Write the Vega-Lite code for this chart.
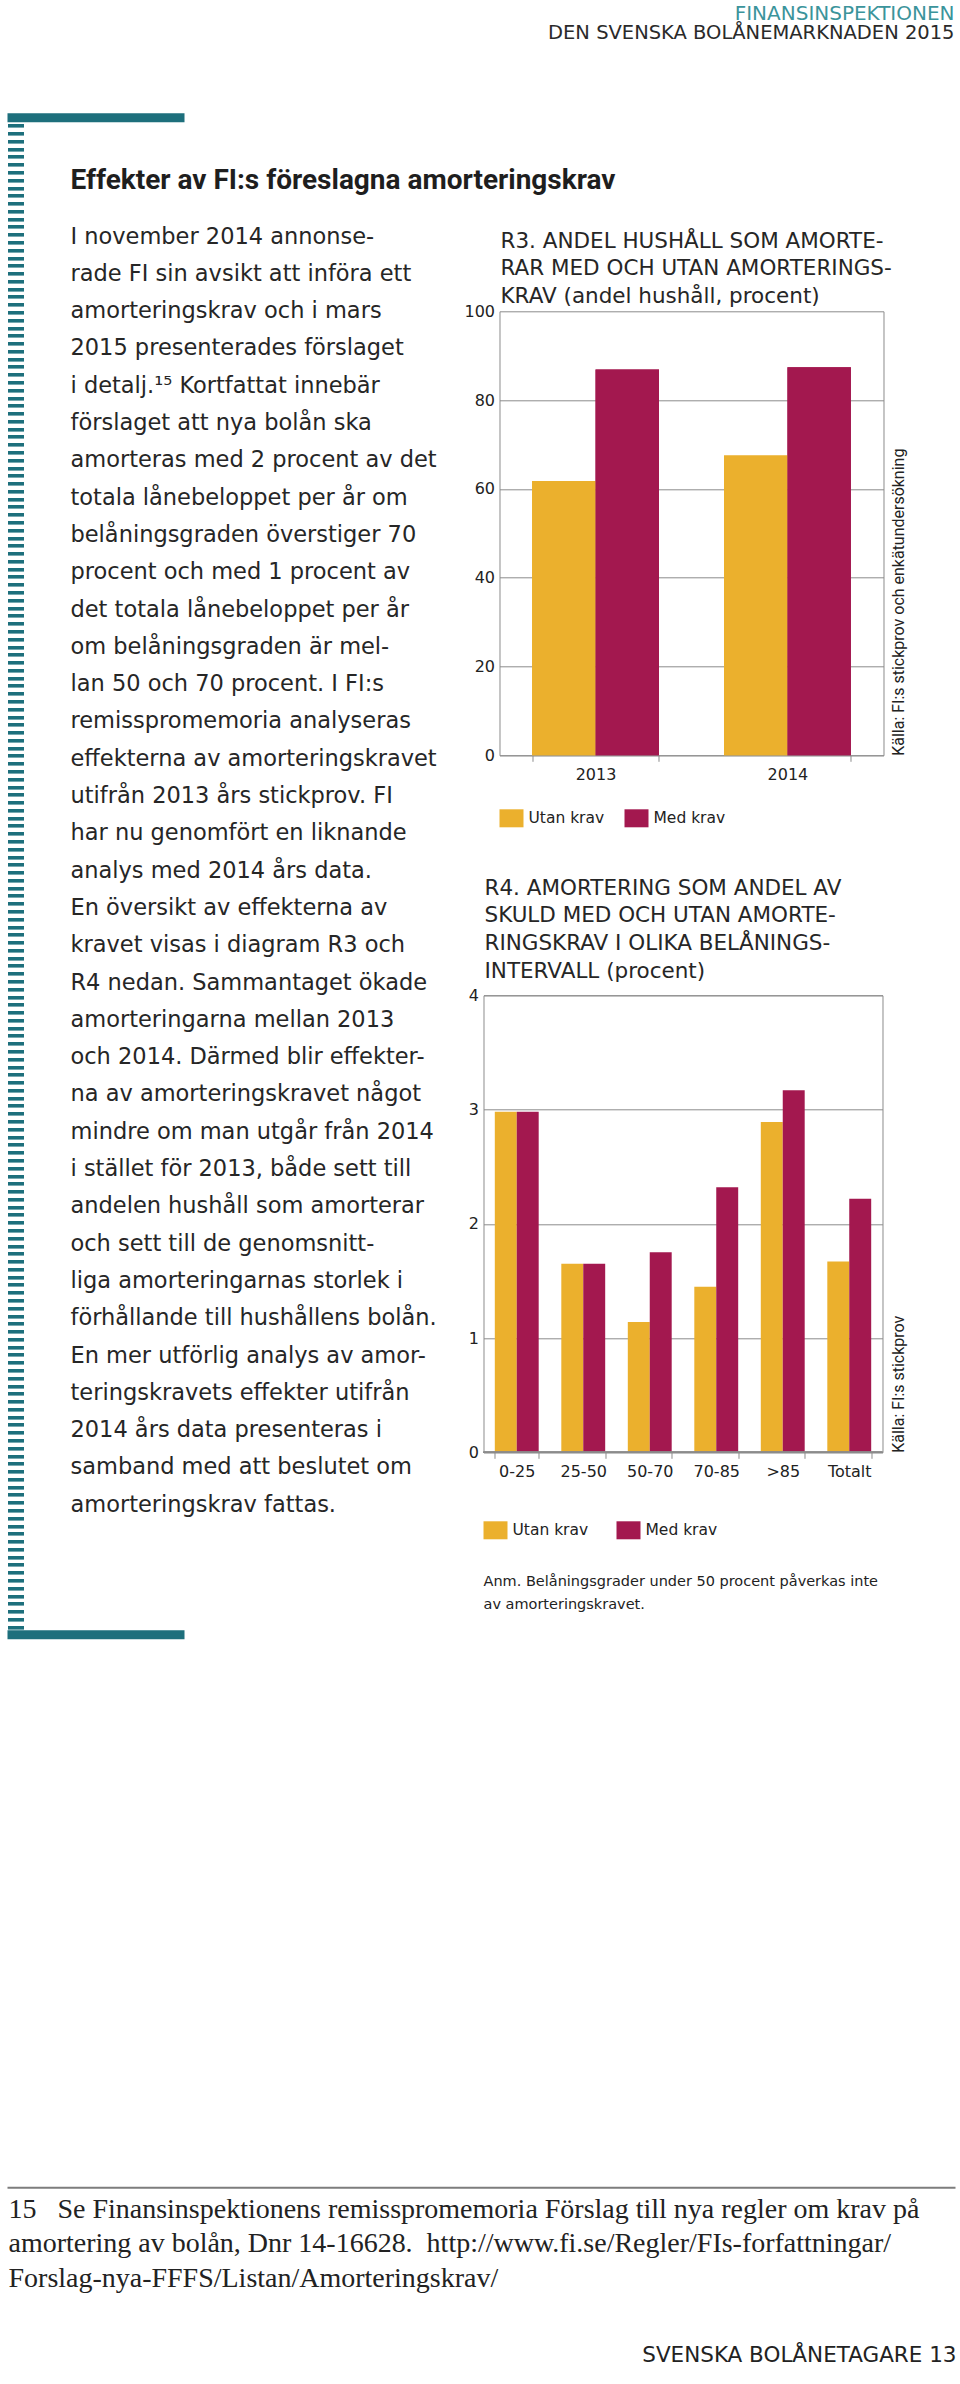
{
  "$schema": "https://vega.github.io/schema/vega-lite/v6.json",
  "background": "white",
  "padding": {"left": 2.5, "top": 3.3, "right": 0, "bottom": 0},
  "autosize": {"type": "pad"},
  "columns": 2,
  "bounds": "flush",
  "align": "each",
  "spacing": {"row": 240, "column": 299},
  "resolve": {"scale": {"color": "independent", "xOffset": "independent"}},
  "title": {
    "text": "SVENSKA BOLÅNETAGARE 13",
    "orient": "bottom", "anchor": "end", "frame": "bounds", "offset": 52,
    "font": "DejaVu Sans", "fontSize": 21.5, "fontWeight": "normal", "color": "#222222"
  },
  "config": {
    "font": "DejaVu Sans",
    "view": {"stroke": null},
    "axis": {"labelFont": "DejaVu Sans", "titleFont": "DejaVu Sans"},
    "legend": {"labelFont": "DejaVu Sans", "titleFont": "DejaVu Sans"}
  },
  "concat": [
    {
      "width": 177, "height": 444,
      "view": {"stroke": null},
      "title": {
        "text": "FINANSINSPEKTIONEN",
        "subtitle": "DEN SVENSKA BOLÅNEMARKNADEN 2015",
        "orient": "top", "anchor": "end", "frame": "group", "dx": 770, "offset": 70.9,
        "font": "DejaVu Sans", "fontSize": 20, "fontWeight": "normal", "color": "#3b949b",
        "subtitleFont": "DejaVu Sans", "subtitleFontSize": 19.5, "subtitleColor": "#2a2a2a", "subtitlePadding": 0
      },
      "data": {"values": [{"bar": 0}, {"bar": 195}]},
      "mark": {"type": "rule", "color": "#1d6f7c", "strokeWidth": 9},
      "encoding": {
        "y": {
          "field": "bar", "type": "quantitative",
          "scale": {"domain": [0, 195], "range": [1323.5, -193.5], "nice": false, "zero": false},
          "axis": {
            "orient": "left", "offset": -16, "domain": false, "labels": false, "grid": false,
            "ticks": true, "tickSize": 16, "tickWidth": 3.6, "tickColor": "#1d6f7c",
            "tickCount": 195, "title": null
          }
        }
      }
    },
    {
      "width": 400, "height": 444,
      "view": {"stroke": null},
      "title": {
        "text": ["R3. ANDEL HUSHÅLL SOM AMORTE-", "RAR MED OCH UTAN AMORTERINGS-", "KRAV (andel hushåll, procent)"],
        "anchor": "start", "frame": "group", "offset": -4, "dx": 17,
        "font": "DejaVu Sans", "fontSize": 21.5, "fontWeight": "normal", "lineHeight": 27.5, "color": "#262626"
      },
      "data": {"values": [
        {"year": "2013", "group": "Utan krav", "value": 61.8},
        {"year": "2013", "group": "Med krav", "value": 86.9},
        {"year": "2014", "group": "Utan krav", "value": 67.5},
        {"year": "2014", "group": "Med krav", "value": 87.4}
      ]},
      "layer": [
        {
          "mark": {"type": "bar"},
          "encoding": {
            "x": {
              "field": "year", "type": "nominal",
              "scale": {"paddingInner": 0.339, "paddingOuter": 0.17, "range": [16, 400]},
              "axis": {
                "title": null, "domain": true, "domainColor": "#8c8c8c", "tickBand": "extent", "ticks": true, "tickSize": 6,
                "tickColor": "#8c8c8c", "labelAngle": 0, "labelPadding": 5, "labelFontSize": 16, "labelColor": "#222222"
              }
            },
            "xOffset": {"field": "group", "type": "nominal", "sort": ["Utan krav", "Med krav"]},
            "y": {
              "field": "value", "type": "quantitative",
              "scale": {"domain": [0, 100], "nice": false},
              "axis": {
                "orient": "left", "offset": -16, "values": [0, 20, 40, 60, 80, 100], "grid": true, "gridColor": "#8c8c8c",
                "gridWidth": 1, "domain": true, "domainColor": "#8c8c8c", "ticks": false, "labelPadding": 5, "labelFontSize": 16,
                "labelColor": "#222222", "title": null
              }
            },
            "color": {
              "field": "group", "type": "nominal", "sort": ["Utan krav", "Med krav"],
              "scale": {"domain": ["Utan krav", "Med krav"], "range": ["#EBB02D", "#A3184F"]},
              "legend": {
                "orient": "bottom", "direction": "horizontal", "title": null, "offset": 8, "padding": 16,
                "symbolType": "M-1,-0.75L1,-0.75L1,0.75L-1,0.75Z", "symbolSize": 576, "symbolStrokeWidth": 0,
                "labelFontSize": 15.5, "labelColor": "#222222", "labelOffset": 5, "columnPadding": 20
              }
            }
          }
        },
        {
          "mark": {"type": "bar"},
          "encoding": {
            "x": {"field": "year", "type": "nominal"},
            "xOffset": {"field": "group", "type": "nominal", "sort": ["Utan krav", "Med krav"]},
            "color": {"field": "group", "type": "nominal", "sort": ["Utan krav", "Med krav"]},
            "y": {
              "field": "value", "type": "quantitative",
              "axis": {
                "orient": "right", "domain": true, "domainColor": "#8c8c8c", "ticks": false, "labels": false, "grid": false,
                "title": "Källa: FI:s stickprov och enkätundersökning",
                "titleAngle": 270, "titleAnchor": "start", "titleAlign": "left", "titleBaseline": "top",
                "titlePadding": 7, "titleFont": "Roboto", "titleFontSize": 16, "titleFontWeight": "normal",
                "titleColor": "#222222", "titleLimit": 600
              }
            }
          }
        }
      ],
      "resolve": {"axis": {"y": "independent"}}
    },
    {
      "width": 161, "height": 952,
      "view": {"stroke": null},
      "data": {"values": []},
      "mark": "text",
      "title": {
        "text": "Effekter av FI:s föreslagna amorteringskrav",
        "subtitle": [
          "I november 2014 annonse-",
          "rade FI sin avsikt att införa ett",
          "amorteringskrav och i mars",
          "2015 presenterades förslaget",
          "i detalj.¹⁵ Kortfattat innebär",
          "förslaget att nya bolån ska",
          "amorteras med 2 procent av det",
          "totala lånebeloppet per år om",
          "belåningsgraden överstiger 70",
          "procent och med 1 procent av",
          "det totala lånebeloppet per år",
          "om belåningsgraden är mel-",
          "lan 50 och 70 procent. I FI:s",
          "remisspromemoria analyseras",
          "effekterna av amorteringskravet",
          "utifrån 2013 års stickprov. FI",
          "har nu genomfört en liknande",
          "analys med 2014 års data.",
          "En översikt av effekterna av",
          "kravet visas i diagram R3 och",
          "R4 nedan. Sammantaget ökade",
          "amorteringarna mellan 2013",
          "och 2014. Därmed blir effekter-",
          "na av amorteringskravet något",
          "mindre om man utgår från 2014",
          "i stället för 2013, både sett till",
          "andelen hushåll som amorterar",
          "och sett till de genomsnitt-",
          "liga amorteringarnas storlek i",
          "förhållande till hushållens bolån.",
          "En mer utförlig analys av amor-",
          "teringskravets effekter utifrån",
          "2014 års data presenteras i",
          "samband med att beslutet om",
          "amorteringskrav fattas."
        ],
        "orient": "top", "anchor": "start", "frame": "group", "dx": 63, "offset": -521,
        "font": "Roboto", "fontSize": 28, "fontWeight": "bold", "color": "#1e1e1e",
        "subtitleFont": "DejaVu Sans", "subtitleFontSize": 22.5, "subtitleLineHeight": 37.3,
        "subtitleColor": "#262626", "subtitlePadding": 30.25
      }
    },
    {
      "width": 399, "height": 457,
      "view": {"stroke": "#8c8c8c", "strokeWidth": 1},
      "title": {
        "text": ["R4. AMORTERING SOM ANDEL AV", "SKULD MED OCH UTAN AMORTE-", "RINGSKRAV I OLIKA BELÅNINGS-", "INTERVALL (procent)"],
        "anchor": "start", "frame": "group", "offset": 5, "dx": 1,
        "font": "DejaVu Sans", "fontSize": 21.5, "fontWeight": "normal", "lineHeight": 27.7, "color": "#262626"
      },
      "data": {"values": [
        {"interval": "0-25", "group": "Utan krav", "value": 2.98},
        {"interval": "0-25", "group": "Med krav", "value": 2.98},
        {"interval": "25-50", "group": "Utan krav", "value": 1.65},
        {"interval": "25-50", "group": "Med krav", "value": 1.65},
        {"interval": "50-70", "group": "Utan krav", "value": 1.14},
        {"interval": "50-70", "group": "Med krav", "value": 1.75},
        {"interval": "70-85", "group": "Utan krav", "value": 1.45},
        {"interval": "70-85", "group": "Med krav", "value": 2.32},
        {"interval": ">85", "group": "Utan krav", "value": 2.89},
        {"interval": ">85", "group": "Med krav", "value": 3.17},
        {"interval": "Totalt", "group": "Utan krav", "value": 1.67},
        {"interval": "Totalt", "group": "Med krav", "value": 2.22}
      ]},
      "layer": [
        {
          "mark": {"type": "bar"},
          "encoding": {
            "x": {
              "field": "interval", "type": "nominal", "sort": ["0-25", "25-50", "50-70", "70-85", ">85", "Totalt"],
              "scale": {"paddingInner": 0.34, "paddingOuter": 0.17},
              "axis": {
                "title": null, "domain": false, "tickBand": "extent", "ticks": true, "tickSize": 6,
                "tickColor": "#8c8c8c", "labelAngle": 0, "labelPadding": 5, "labelFontSize": 16, "labelColor": "#222222"
              }
            },
            "xOffset": {"field": "group", "type": "nominal", "sort": ["Utan krav", "Med krav"]},
            "y": {
              "field": "value", "type": "quantitative",
              "scale": {"domain": [0, 4], "nice": false},
              "axis": {
                "orient": "left", "values": [0, 1, 2, 3, 4], "grid": true, "gridColor": "#8c8c8c",
                "gridWidth": 1, "domain": false, "ticks": false, "labelPadding": 5, "labelFontSize": 16,
                "labelColor": "#222222", "title": null
              }
            },
            "color": {
              "field": "group", "type": "nominal", "sort": ["Utan krav", "Med krav"],
              "scale": {"domain": ["Utan krav", "Med krav"], "range": ["#EBB02D", "#A3184F"]},
              "legend": {
                "orient": "bottom", "direction": "horizontal", "offset": 39, "padding": 0,
                "title": ["Anm. Belåningsgrader under 50 procent påverkas inte", "av amorteringskravet."],
                "titleOrient": "bottom", "titleAnchor": "start", "titleFontSize": 14.5, "titleFontWeight": "normal",
                "titleColor": "#222222", "titleLimit": 600, "titleLineHeight": 22.4, "titlePadding": 36,
                "symbolType": "M-1,-0.75L1,-0.75L1,0.75L-1,0.75Z", "symbolSize": 576, "symbolStrokeWidth": 0,
                "labelFontSize": 15.5, "labelColor": "#222222", "labelOffset": 5, "columnPadding": 28
              }
            }
          }
        },
        {
          "mark": {"type": "rule", "color": "#8c8c8c", "strokeWidth": 1},
          "encoding": {
            "y": {
              "datum": 0, "type": "quantitative",
              "axis": {
                "orient": "right", "domain": false, "ticks": false, "labels": false, "grid": false,
                "title": "Källa: FI:s stickprov",
                "titleAngle": 270, "titleAnchor": "start", "titleAlign": "left", "titleBaseline": "top",
                "titlePadding": 8, "titleFont": "Roboto", "titleFontSize": 16, "titleFontWeight": "normal",
                "titleColor": "#222222", "titleLimit": 600
              }
            }
          }
        }
      ],
      "resolve": {"axis": {"y": "independent"}}
    },
    {
      "width": 177, "height": 1,
      "view": {"stroke": null},
      "data": {"values": [{}]},
      "mark": {"type": "rule", "color": "#7d7d7d", "strokeWidth": 2},
      "encoding": {
        "x": {"datum": 0, "type": "quantitative", "scale": {"domain": [0, 1], "range": [0, 948], "nice": false, "zero": false}, "axis": null},
        "x2": {"datum": 1}
      },
      "title": {
        "text": [
          "15\u00a0\u00a0 Se Finansinspektionens remisspromemoria Förslag till nya regler om krav på",
          "\u00a0\u00a0\u00a0\u00a0amortering av bolån, Dnr 14-16628.\u00a0 http://www.fi.se/Regler/FIs-forfattningar/",
          "\u00a0\u00a0\u00a0\u00a0Forslag-nya-FFFS/Listan/Amorteringskrav/"
        ],
        "orient": "bottom", "anchor": "start", "frame": "group", "dx": 1, "offset": 7.5,
        "font": "Liberation Serif", "fontSize": 28, "fontWeight": "normal", "lineHeight": 34.2, "color": "#222222"
      }
    }
  ]
}
